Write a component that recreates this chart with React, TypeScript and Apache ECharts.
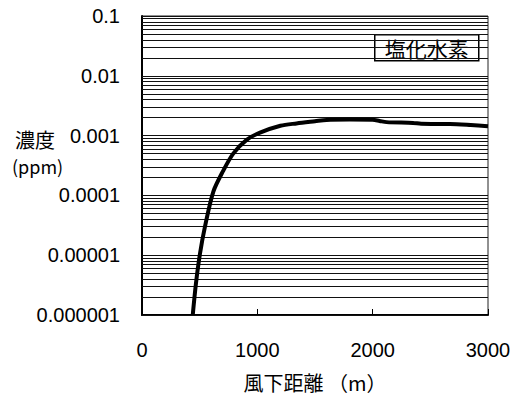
import React, { useEffect, useRef } from "react";
import * as echarts from "echarts";

const distances = [440, 468, 503, 546, 618, 705, 791, 907, 1023, 1200, 1340, 1500, 1600, 1800, 2000, 2060, 2120, 2350, 2420, 2670, 2850, 3000];
const concentrations = [1e-6, 3.4e-6, 1.07e-5, 3.0e-5, 1.15e-4, 2.6e-4, 5.0e-4, 8.5e-4, 1.12e-3, 1.46e-3, 1.6e-3, 1.74e-3, 1.83e-3, 1.85e-3, 1.84e-3, 1.76e-3, 1.68e-3, 1.63e-3, 1.58e-3, 1.56e-3, 1.5e-3, 1.44e-3];

const xTicks = [0, 1000, 2000, 3000];
const yTickLabels = ["0.000001", "0.00001", "0.0001", "0.001", "0.01", "0.1"];
const gridDecades = [1e-6, 1e-5, 1e-4, 1e-3, 1e-2];
const gridMultipliers = [1, 2, 3, 4, 5, 6, 7, 8, 9];

const seriesName = "塩化水素";
const xName = "風下距離 （m）";
const yNameLine1 = "濃度";
const yNameLine2 = "(ppm)";

const NUM_FONT = "'Liberation Sans', Arial, sans-serif";
const JP_FONT = "'Noto Sans CJK JP', sans-serif";

export default function App() {
  const ref = useRef<HTMLDivElement>(null);

  useEffect(() => {
    if (!ref.current) return;
    const chart = echarts.init(ref.current, null, { renderer: "svg" });

    const gridLineValues: number[] = [];
    gridDecades.forEach((d) => gridMultipliers.forEach((k) => gridLineValues.push(k * d)));
    gridLineValues.push(0.1);

    const data = distances.map((d, i) => [d, concentrations[i]]);

    chart.setOption({
      animation: false,
      backgroundColor: "#fff",
      grid: {
        left: 142,
        right: 30,
        top: 16,
        bottom: 84,
        show: true,
        borderColor: "#222",
        borderWidth: 1,
      },
      xAxis: {
        type: "value",
        min: xTicks[0],
        max: xTicks[xTicks.length - 1],
        interval: 1000,
        name: xName,
        nameLocation: "middle",
        nameGap: 57,
        nameTextStyle: { fontFamily: JP_FONT, fontSize: 20, color: "#000" },
        axisLine: { show: true, lineStyle: { color: "#000", width: 2 } },
        axisTick: { show: true, inside: true, length: 6, lineStyle: { color: "#000", width: 1 } },
        axisLabel: {
          margin: 25,
          fontFamily: NUM_FONT,
          fontSize: 20,
          color: "#000",
          formatter: (v: number) => String(v),
        },
        splitLine: { show: false },
      },
      yAxis: {
        type: "log",
        logBase: 10,
        min: 1e-6,
        max: 0.1,
        splitNumber: 5,
        axisLine: { show: true, lineStyle: { color: "#000", width: 2 } },
        axisTick: { show: true, inside: true, length: 6, lineStyle: { color: "#000", width: 1 } },
        axisLabel: {
          margin: 22,
          fontFamily: NUM_FONT,
          fontSize: 20,
          color: "#000",
          formatter: (v: number) => {
            const i = Math.round(Math.log10(v)) + 6;
            return yTickLabels[i] ?? "";
          },
        },
        splitLine: { show: false },
      },
      graphic: [
        {
          type: "text",
          left: 15,
          top: 129,
          style: { text: yNameLine1, fontFamily: JP_FONT, fontSize: 20, fill: "#000" },
        },
        {
          type: "text",
          left: 12,
          top: 157,
          style: { text: yNameLine2, fontFamily: JP_FONT, fontSize: 18, fill: "#000" },
        },
        {
          type: "group",
          left: 374,
          top: 34,
          children: [
            {
              type: "rect",
              shape: { x: 0, y: 0, width: 104, height: 26 },
              style: { fill: "#fff", stroke: "#000", lineWidth: 1.5 },
            },
            {
              type: "text",
              x: 52,
              y: 13,
              style: {
                text: seriesName,
                fontFamily: JP_FONT,
                fontSize: 21,
                fill: "#000",
                align: "center",
                verticalAlign: "middle",
              },
            },
          ],
        },
      ],
      series: [
        {
          name: seriesName,
          type: "line",
          data,
          showSymbol: false,
          smooth: 0.3,
          clip: true,
          z: 2,
          lineStyle: { color: "#000", width: 4 },
          markLine: {
            silent: true,
            precision: 12,
            symbol: ["none", "none"],
            label: { show: false },
            lineStyle: { color: "#111", width: 1, type: "solid" },
            z: 1,
            data: gridLineValues.map((v) => ({ yAxis: v })),
          },
        },
      ],
    });

    return () => chart.dispose();
  }, []);

  return (
    <div
      ref={ref}
      style={{ position: "fixed", left: 0, top: 0, width: 518, height: 399, background: "#fff" }}
    />
  );
}
